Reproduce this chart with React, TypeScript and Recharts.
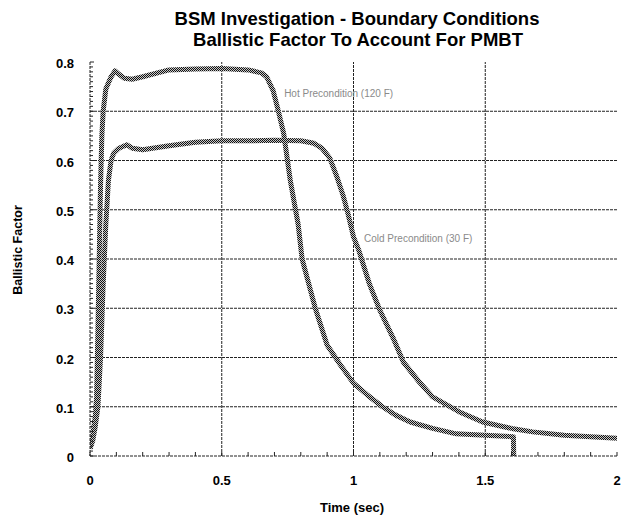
import {
  LineChart,
  Line,
  XAxis,
  YAxis,
  ReferenceLine,
  ReferenceDot,
} from 'recharts';

// hot precondition (120 F): time (sec) and ballistic factor
const hotTime = [
  0, 0.01, 0.02, 0.025, 0.03, 0.035, 0.04, 0.045, 0.05, 0.06, 0.08, 0.095, 0.11, 0.13, 0.16,
  0.2, 0.3, 0.4, 0.5, 0.6, 0.65, 0.67, 0.695, 0.715, 0.735, 0.76, 0.79, 0.805, 0.83, 0.855,
  0.9, 0.95, 1.0, 1.05, 1.11, 1.16, 1.215, 1.3, 1.39, 1.5, 1.607, 1.608,
];
const hotFactor = [
  0.015, 0.04, 0.08, 0.12, 0.25, 0.4, 0.55, 0.65, 0.7, 0.745, 0.77, 0.782, 0.775, 0.767, 0.765,
  0.77, 0.784, 0.786, 0.787, 0.784, 0.778, 0.77, 0.742, 0.7, 0.655, 0.56, 0.47, 0.4, 0.35, 0.3,
  0.225, 0.185, 0.148, 0.125, 0.1, 0.083, 0.069, 0.056, 0.045, 0.042, 0.039, 0,
];

// cold precondition (30 F)
const coldTime = [
  0, 0.01, 0.02, 0.03, 0.04, 0.05, 0.06, 0.07, 0.08, 0.09, 0.11, 0.14, 0.16, 0.2, 0.3, 0.4,
  0.5, 0.6, 0.7, 0.8, 0.85, 0.88, 0.91, 0.935, 0.96, 0.98, 1.0, 1.02, 1.06, 1.1, 1.15, 1.19,
  1.25, 1.3, 1.4, 1.49, 1.6, 1.68, 1.8, 1.9, 2.0,
];
const coldFactor = [
  0.015, 0.03, 0.06, 0.1, 0.2, 0.35, 0.47, 0.56, 0.6, 0.615, 0.625, 0.632, 0.625, 0.622, 0.63,
  0.637, 0.64, 0.64, 0.641, 0.64, 0.635, 0.625, 0.605, 0.57, 0.53, 0.49, 0.445, 0.418, 0.35,
  0.296, 0.24, 0.19, 0.15, 0.12, 0.09, 0.069, 0.056, 0.049, 0.042, 0.039, 0.036,
];

const xMajor = [0, 0.5, 1, 1.5, 2];
const xMinor = [
  0, 0.1, 0.2, 0.3, 0.4, 0.5, 0.6, 0.7, 0.8, 0.9, 1, 1.1, 1.2, 1.3, 1.4, 1.5, 1.6, 1.7, 1.8, 1.9, 2,
];
const yMajor = [0, 0.1, 0.2, 0.3, 0.4, 0.5, 0.6, 0.7, 0.8];
const yMinor = [
  0, 0.01, 0.02, 0.03, 0.04, 0.05, 0.06, 0.07, 0.08, 0.09,
  0.1, 0.11, 0.12, 0.13, 0.14, 0.15, 0.16, 0.17, 0.18, 0.19,
  0.2, 0.21, 0.22, 0.23, 0.24, 0.25, 0.26, 0.27, 0.28, 0.29,
  0.3, 0.31, 0.32, 0.33, 0.34, 0.35, 0.36, 0.37, 0.38, 0.39,
  0.4, 0.41, 0.42, 0.43, 0.44, 0.45, 0.46, 0.47, 0.48, 0.49,
  0.5, 0.51, 0.52, 0.53, 0.54, 0.55, 0.56, 0.57, 0.58, 0.59,
  0.6, 0.61, 0.62, 0.63, 0.64, 0.65, 0.66, 0.67, 0.68, 0.69,
  0.7, 0.71, 0.72, 0.73, 0.74, 0.75, 0.76, 0.77, 0.78, 0.79, 0.8,
];

const hotData = hotTime.map((t, i) => ({ t, v: hotFactor[i] }));
const coldData = coldTime.map((t, i) => ({ t, v: coldFactor[i] }));

const font = 'Arial, "Liberation Sans", sans-serif';
const dash = { stroke: '#222', strokeDasharray: '3 1' };

const isMajor = (list: number[], v: number) => list.some((m) => Math.abs(m - v) < 1e-6);

const BottomTick = (props: any) => {
  const { x, y, payload } = props;
  const major = isMajor(xMajor, payload.value);
  return (
    <g>
      <line x1={x} x2={x} y1={y} y2={y - 4} stroke="#222" />
      {major && (
        <text x={x} y={y + 29} textAnchor="middle" fontFamily={font} fontWeight="bold" fontSize={13} fill="#000">
          {payload.value}
        </text>
      )}
    </g>
  );
};

const TopTick = (props: any) => {
  const { x, y } = props;
  return <line x1={x} x2={x} y1={y} y2={y + 4} stroke="#222" />;
};

const LeftTick = (props: any) => {
  const { x, y, payload } = props;
  const major = isMajor(yMajor, payload.value);
  return (
    <g>
      <line x1={x} x2={x + (major ? 4 : 3)} y1={y} y2={y} stroke="#222" />
      {major && (
        <text x={x - 16} y={y + 6} textAnchor="end" fontFamily={font} fontWeight="bold" fontSize={13} fill="#000">
          {payload.value}
        </text>
      )}
    </g>
  );
};

const RightTick = (props: any) => {
  const { x, y } = props;
  return <line x1={x} x2={x - 3} y1={y} y2={y} stroke="#222" />;
};

const curveLabel = (value: string) => ({
  value,
  position: 'right' as const,
  offset: 0,
  fill: '#8a8a8a',
  fontSize: 10,
  fontFamily: font,
});

export default function App() {
  return (
    <div style={{ position: 'absolute', left: 0, top: 0, width: 621, height: 519, background: '#fff' }}>
      <svg width={0} height={0} style={{ position: 'absolute' }}>
        <defs>
          <pattern id="checker" width={2} height={2} patternUnits="userSpaceOnUse">
            <rect width={2} height={2} fill="#c8c8c8" />
            <rect x={0} y={0} width={1} height={1} fill="#111" />
            <rect x={1} y={1} width={1} height={1} fill="#111" />
          </pattern>
        </defs>
      </svg>

      <LineChart width={621} height={519} margin={{ top: 62, right: 4, bottom: 0, left: 0 }}>
        <XAxis
          type="number"
          dataKey="t"
          domain={[0, 2]}
          allowDataOverflow
          ticks={xMinor}
          interval={0}
          tickSize={0}
          tickMargin={0}
          height={63}
          axisLine={dash}
          tickLine={false}
          tick={BottomTick}
        />
        <XAxis
          xAxisId="top"
          orientation="top"
          type="number"
          dataKey="t"
          domain={[0, 2]}
          allowDataOverflow
          ticks={xMinor}
          interval={0}
          tickSize={0}
          tickMargin={0}
          height={0}
          axisLine={dash}
          tickLine={false}
          tick={TopTick}
        />
        <YAxis
          type="number"
          domain={[0, 0.8]}
          allowDataOverflow
          ticks={yMinor}
          interval={0}
          tickSize={0}
          tickMargin={0}
          width={90}
          axisLine={dash}
          tickLine={false}
          tick={LeftTick}
        />
        <YAxis
          yAxisId="right"
          orientation="right"
          type="number"
          domain={[0, 0.8]}
          allowDataOverflow
          ticks={yMinor}
          interval={0}
          tickSize={0}
          tickMargin={0}
          width={0}
          axisLine={dash}
          tickLine={false}
          tick={RightTick}
        />

        {xMajor.slice(1, -1).map((v) => (
          <ReferenceLine key={'x' + v} x={v} {...dash} />
        ))}
        {yMajor.slice(1, -1).map((v) => (
          <ReferenceLine key={'y' + v} y={v} {...dash} />
        ))}

        <Line
          data={hotData}
          dataKey="v"
          type="linear"
          dot={false}
          stroke="url(#checker)"
          strokeWidth={5}
          strokeLinejoin="round"
          isAnimationActive={false}
        />
        <Line
          data={coldData}
          dataKey="v"
          type="linear"
          dot={false}
          stroke="url(#checker)"
          strokeWidth={5}
          strokeLinejoin="round"
          isAnimationActive={false}
        />

        <ReferenceDot x={0.733} y={0.736} r={1} fill="none" stroke="none" label={curveLabel('Hot Precondition (120 F)')} />
        <ReferenceDot x={1.036} y={0.442} r={1} fill="none" stroke="none" label={curveLabel('Cold Precondition (30 F)')} />
      </LineChart>

      <svg width={621} height={519} style={{ position: 'absolute', left: 0, top: 0, pointerEvents: 'none' }}>
        <text x={357} y={25} textAnchor="middle" fontFamily={font} fontWeight="bold" fontSize={18.5} fill="#000">
          BSM Investigation - Boundary Conditions
        </text>
        <text x={358} y={46} textAnchor="middle" fontFamily={font} fontWeight="bold" fontSize={18.5} fill="#000">
          Ballistic Factor To Account For PMBT
        </text>
        <text
          x={22}
          y={250}
          transform="rotate(-90 22 250)"
          textAnchor="middle"
          fontFamily={font}
          fontWeight="bold"
          fontSize={12.5}
          fill="#000"
        >
          Ballistic Factor
        </text>
        <text x={352} y={512} textAnchor="middle" fontFamily={font} fontWeight="bold" fontSize={13} fill="#000">
          Time (sec)
        </text>
      </svg>
    </div>
  );
}
